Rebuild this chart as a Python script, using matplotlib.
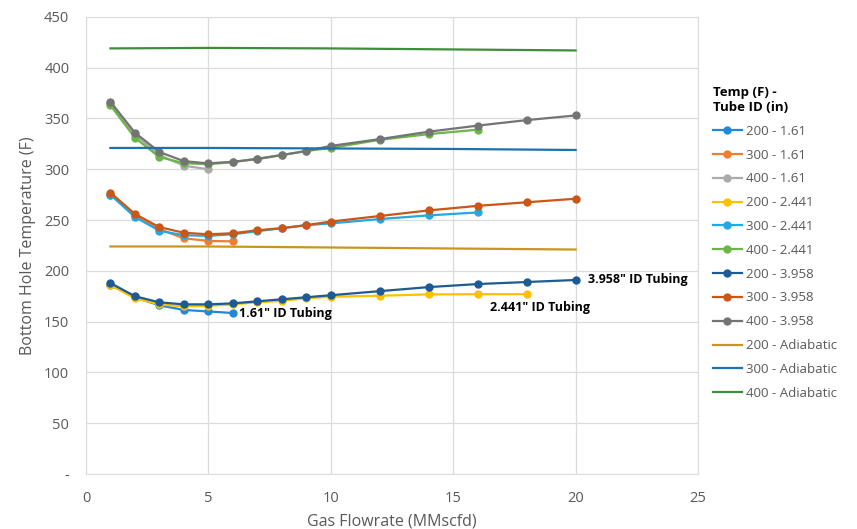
import matplotlib.pyplot as plt
from matplotlib.ticker import FuncFormatter

plt.rcParams["font.family"] = ["Open Sans", "DejaVu Sans"]

# flowrate points (MMscfd)
x_161 = [1, 2, 3, 4, 5, 6]
x_2441_200 = [1, 2, 3, 4, 5, 6, 7, 8, 9, 10, 12, 14, 16, 18]
x_2441 = [1, 2, 3, 4, 5, 6, 7, 8, 9, 10, 12, 14, 16]
x_3958 = [1, 2, 3, 4, 5, 6, 7, 8, 9, 10, 12, 14, 16, 18, 20]
x_adiab = [1, 5, 10, 15, 20]

# bottom hole temperatures (F)
t200_161 = [186, 174, 166, 161.5, 160, 158.5]
t300_161 = [275, 254, 241, 232, 229.5, 229]
t400_161 = [365, 334, 314, 303.5, 300]
t200_2441 = [186, 173, 167, 165, 165.5, 167, 169, 170.5, 173, 174.5, 175.5, 176.8, 177, 177]
t300_2441 = [275, 253, 239.5, 235, 234.5, 236, 239, 242, 245, 246.7, 251, 254.6, 257.5]
t400_2441 = [363, 331, 312, 306, 305, 307, 310.5, 314, 318, 321, 329, 334.6, 339]
t200_3958 = [188, 175, 169, 167, 167, 168, 170, 172, 174, 176, 180, 184, 187, 189, 191]
t300_3958 = [277, 256, 243, 237.5, 236, 237, 240, 242, 245, 248.5, 254, 259.5, 264, 267.5, 271]
t400_3958 = [366.5, 336, 317, 308, 305.8, 307.4, 310, 314, 318, 323, 329.7, 337, 343, 348.4, 353]
t200_adiab = [224, 224, 223, 222, 221]
t300_adiab = [321, 321, 320.5, 320, 319]
t400_adiab = [419, 419.5, 419, 418, 417]

series = [
    ("200 - 1.61", x_161, t200_161, "#2389D7", True),
    ("300 - 1.61", x_161, t300_161, "#F07E2E", True),
    ("400 - 1.61", x_161[:5], t400_161, "#ABABAB", True),
    ("200 - 2.441", x_2441_200, t200_2441, "#FFC000", True),
    ("300 - 2.441", x_2441, t300_2441, "#22A8E2", True),
    ("400 - 2.441", x_2441, t400_2441, "#6CB548", True),
    ("200 - 3.958", x_3958, t200_3958, "#1E5B94", True),
    ("300 - 3.958", x_3958, t300_3958, "#CC5518", True),
    ("400 - 3.958", x_3958, t400_3958, "#747474", True),
    ("200 - Adiabatic", x_adiab, t200_adiab, "#C8961E", False),
    ("300 - Adiabatic", x_adiab, t300_adiab, "#1C72AE", False),
    ("400 - Adiabatic", x_adiab, t400_adiab, "#3F8C3C", False),
]

fig = plt.figure(figsize=(8.57, 5.29), dpi=100)
ax = fig.add_axes([0.1003, 0.104, 0.7142, 0.864])

for name, xs, ys, col, mk in series:
    if mk:
        ax.plot(xs, ys, color=col, lw=1.6, marker="o", ms=5, label=name)
    else:
        ax.plot(xs, ys, color=col, lw=1.6, label=name)

ax.set_xlim(0, 25)
ax.set_ylim(0, 450)
ax.set_xticks(range(0, 26, 5))
ax.set_yticks(range(0, 451, 50))
ax.yaxis.set_major_formatter(FuncFormatter(lambda v, p: "-" if v == 0 else f"{int(v)}"))
ax.grid(True, color="#DCDCDC", lw=0.9)
ax.set_axisbelow(True)
for s in ax.spines.values():
    s.set_color("#DCDCDC")
ax.tick_params(length=0, colors="#595959", labelsize=10.5, pad=12)

ax.set_xlabel("Gas Flowrate (MMscfd)", color="#595959", fontsize=11.5, labelpad=6)
ax.set_ylabel("Bottom Hole Temperature (F)", color="#595959", fontsize=11.5, labelpad=6)

# tubing labels
ax.text(6.25, 158, '1.61" ID Tubing', fontsize=9, fontweight="bold", va="center", ha="left")
ax.text(16.5, 164, '2.441" ID Tubing', fontsize=9, fontweight="bold", va="center", ha="left")
ax.text(20.5, 191, '3.958" ID Tubing', fontsize=9, fontweight="bold", va="center", ha="left")

leg = ax.legend(loc="upper left", bbox_to_anchor=(1.005, 0.875), frameon=False,
                title="Temp (F) -\nTube ID (in)", fontsize=9.5, handlelength=2.2,
                handletextpad=0.3, labelspacing=0.82, labelcolor="#595959")
leg.get_title().set_fontweight("bold")
leg.get_title().set_fontsize(9.5)
leg._legend_box.align = "left"

fig.savefig("out.png", dpi=100, facecolor="white")
